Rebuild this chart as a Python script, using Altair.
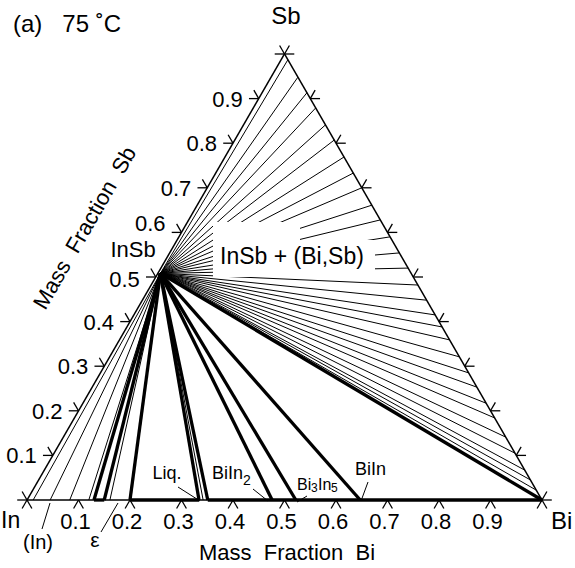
import math
import pandas as pd
import altair as alt

# ---------------- data (mass fractions) ----------------
insb_bi, insb_sb = 0.005, 0.508          # InSb corner of the fan (Bi, Sb)
# tie lines InSb -> (Bi,Sb) on the Sb-Bi edge, given by Sb fraction there
fan_sb = [0.987, 0.948, 0.913, 0.879, 0.841, 0.807, 0.769, 0.733, 0.700,
          0.661, 0.628, 0.590, 0.554, 0.520, 0.482, 0.448, 0.415, 0.388,
          0.359, 0.321, 0.285, 0.253, 0.217, 0.184, 0.141, 0.105, 0.067,
          0.045, 0.022]
# tie lines InSb -> In-Bi edge, given by Bi fraction there
low_bi_thin = [0.012, 0.045, 0.083, 0.120, 0.161, 0.342]
low_bi_thick = [0.130, 0.150, 0.200, 0.334, 0.351, 0.476, 0.522, 0.647, 1.0]
# thick parts of the In-Bi edge (Bi from, Bi to)
base_thick_from = [0.130, 0.200, 0.351]
base_thick_to = [0.150, 0.334, 1.0]
tick_vals = [0.1, 0.2, 0.3, 0.4, 0.5, 0.6, 0.7, 0.8, 0.9]
tick_labels = ["0.1", "0.2", "0.3", "0.4", "0.5", "0.6", "0.7", "0.8", "0.9"]

R3 = math.sqrt(3) / 2
NB = "\u00a0"


def cart(bi, sb):
    return bi + sb / 2.0, sb * R3


def pix(px, py):
    # annotation position given in page pixels -> plot data space
    return (px - 27) / 515.0, (500 - py) / 515.0


segs = []


def seg(p, q, w):
    segs.append({"x1": p[0], "y1": p[1], "x2": q[0], "y2": q[1], "w": w})


O = cart(insb_bi, insb_sb)
for s in fan_sb:
    seg(O, cart(1 - s, s), 1.0)
for b in low_bi_thin:
    seg(O, cart(b, 0), 1.0)
for b in low_bi_thick:
    seg(O, cart(b, 0), 3.3)

# triangle edges
In, Bi, Sb = cart(0, 0), cart(1, 0), cart(0, 1)
seg(In, Bi, 1.5)
seg(In, Sb, 1.5)
seg(Sb, Bi, 1.5)
for a, b in zip(base_thick_from, base_thick_to):
    seg(cart(a, 0), cart(b, 0), 3.3)

# ticks
L = 0.019
dirs = {
    "dl": (-0.5, -R3), "dr": (0.5, -R3),
    "l": (-1, 0), "ul": (-0.5, R3),
    "r": (1, 0), "ur": (0.5, R3),
}


def tick(p, d):
    seg(p, (p[0] + L * dirs[d][0], p[1] + L * dirs[d][1]), 1.3)


for t in [0.0] + tick_vals + [1.0]:
    pb = cart(t, 0)
    tick(pb, "dl"); tick(pb, "dr")
    pl = cart(0, t)
    tick(pl, "l"); tick(pl, "ul")
    pr = cart(1 - t, t)
    tick(pr, "r"); tick(pr, "ur")

# leader lines for small labels (page pixels)
leaders = [((42, 529), (50, 503)), ((101, 532), (118, 503)),
           ((178, 487), (200, 501)), ((253, 489), (268, 501)),
           ((307, 496), (297, 502)), ((368, 482), (361, 501))]
for a, b in leaders:
    seg(pix(*a), pix(*b), 1.0)

seg_df = pd.DataFrame(segs)

xs = alt.Scale(domain=[-27 / 515.0, 548 / 515.0], nice=False, zero=False)
ys = alt.Scale(domain=[-68 / 515.0, 500 / 515.0], nice=False, zero=False)

lines = alt.Chart(seg_df).mark_rule(strokeCap="butt", color="black").encode(
    x=alt.X("x1:Q", scale=xs, axis=None),
    y=alt.Y("y1:Q", scale=ys, axis=None),
    x2="x2:Q", y2="y2:Q",
    strokeWidth=alt.StrokeWidth("w:Q", scale=None),
)

# white mask behind the region label
masks = []
for (a, b, c, d) in [(213, 240, 375, 277), (213, 222, 300, 240)]:
    p, q = pix(a, b), pix(c, d)
    masks.append({"x1": p[0], "y1": p[1], "x2": q[0], "y2": q[1]})
mask = alt.Chart(pd.DataFrame(masks)).mark_rect(color="white").encode(
    x=alt.X("x1:Q", scale=xs, axis=None), y=alt.Y("y1:Q", scale=ys, axis=None),
    x2="x2:Q", y2="y2:Q")

texts = []


def txt(t, px, py, size, align):
    x, y = pix(px, py)
    texts.append({"t": t, "x": x, "y": y, "s": size, "a": align})


txt("(a)" + NB * 3 + "75 ˚C", 13, 25, 24, "left")
txt("Sb", 286, 17, 24, "center")
txt("In", 1, 521, 23, "left")
txt("Bi", 551, 522, 24, "left")
txt("InSb", 133, 250, 22, "center")
txt("InSb + (Bi,Sb)", 292, 257, 23, "center")
txt("Mass" + NB * 2 + "Fraction" + NB * 2 + "Bi", 287, 553, 22, "center")
txt("(In)", 38, 543, 20, "center")
txt("ε", 95, 541, 21, "center")
txt("Liq.", 167, 474, 18, "center")
txt("BiIn", 212, 474, 18, "left")
txt("2", 243, 481, 14, "left")
txt("Bi", 297, 485, 16, "left")
txt("3", 311, 488, 12, "left")
txt("In", 318, 485, 16, "left")
txt("5", 331, 488, 12, "left")
txt("BiIn", 355, 470, 18, "left")

left_nudge = {"0.6": -8, "0.5": 3}
for v, lab in zip(tick_vals, tick_labels):
    bx, by = cart(v, 0)
    texts.append({"t": lab, "x": bx - 3 / 515.0, "y": by - 22 / 515.0, "s": 22, "a": "center"})
    lx, ly = cart(0, v)
    dy = left_nudge.get(lab, 1)
    texts.append({"t": lab, "x": lx - 16 / 515.0, "y": ly - dy / 515.0, "s": 22, "a": "right"})

tdf = pd.DataFrame(texts)
text_layers = []
for al in ["left", "center", "right"]:
    sub = tdf[tdf["a"] == al]
    text_layers.append(
        alt.Chart(sub).mark_text(align=al, baseline="middle", font="Liberation Sans",
                                 color="black").encode(
            x=alt.X("x:Q", scale=xs, axis=None), y=alt.Y("y:Q", scale=ys, axis=None),
            text="t:N", size=alt.Size("s:Q", scale=None)))

tx, ty = pix(85, 228)
rot = alt.Chart(pd.DataFrame([{"t": "Mass" + NB * 2 + "Fraction" + NB * 2 + "Sb",
                               "x": tx, "y": ty}])).mark_text(
    angle=300, align="center", baseline="middle", font="Liberation Sans", fontSize=22,
    color="black").encode(x=alt.X("x:Q", scale=xs, axis=None),
                          y=alt.Y("y:Q", scale=ys, axis=None), text="t:N")

chart = alt.layer(lines, mask, *text_layers, rot).properties(
    width=575, height=568, autosize=alt.AutoSizeParams(type="none"), padding=0,
    background="white").configure_view(strokeWidth=0)

chart.save("out.html", embed_options={"renderer": "svg", "actions": False})
